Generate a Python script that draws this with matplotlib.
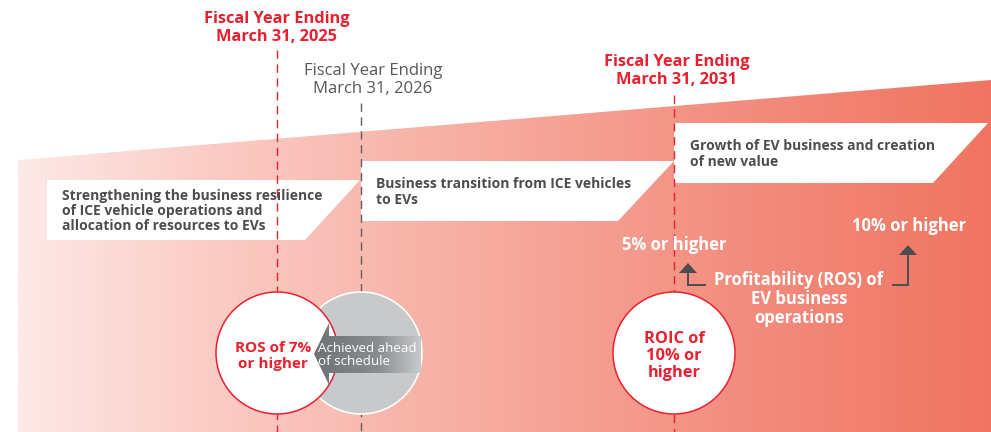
import numpy as np
import matplotlib.pyplot as plt
from matplotlib.patches import Polygon, Circle
from matplotlib.colors import LinearSegmentedColormap

# texts of the roadmap
milestones = ["Fiscal Year Ending\nMarch 31, 2025",
              "Fiscal Year Ending\nMarch 31, 2026",
              "Fiscal Year Ending\nMarch 31, 2031"]
phases = ["Strengthening the business resilience\nof ICE vehicle operations and\nallocation of resources to EVs",
          "Business transition from ICE vehicles\nto EVs",
          "Growth of EV business and creation\nof new value"]
targets = ["ROS of 7%\nor higher", "ROIC of\n10% or\nhigher"]
ev_ros = ["5% or higher", "10% or higher"]
ev_ros_label = "Profitability (ROS) of\nEV business\noperations"
ahead_label = "Achieved ahead\nof schedule"

RED = "#e8202f"
DARK = "#4d4d4f"
FONT = "Open Sans"

fig = plt.figure(figsize=(9.91, 4.32), dpi=100)
ax = fig.add_axes([0, 0, 1, 1])
ax.set_xlim(0, 991)
ax.set_ylim(432, 0)
ax.axis("off")

# gradient background wedge
grad = LinearSegmentedColormap.from_list(
    "bg", [(0, "#fde9e7"), (0.19, "#fbcdc6"), (0.5, "#f6a99c"),
           (0.78, "#f2897a"), (1, "#f07561")])
wedge = Polygon([(18, 160), (991, 80), (991, 432), (18, 432)],
                closed=True, facecolor="none", edgecolor="none")
ax.add_patch(wedge)
img = ax.imshow(np.linspace(0, 1, 512)[None, :], cmap=grad, aspect="auto",
                extent=[18, 991, 432, 80], zorder=1)
img.set_clip_path(wedge)

# white phase banners
banners = [
    [(47, 180), (360, 180), (305, 240), (47, 240)],
    [(361, 161), (674, 161), (618, 221), (361, 221)],
    [(674, 123), (988, 123), (933, 183), (674, 183)],
]
for pts in banners:
    ax.add_patch(Polygon(pts, closed=True, facecolor="white",
                         edgecolor="none", zorder=2))

text_pos = [(62, 211), (376, 192), (690, 154)]
for (x, y), t in zip(text_pos, phases):
    ax.text(x, y, t, ha="left", va="center", fontsize=10, color=DARK,
            fontweight="bold", family=FONT, linespacing=1.1, zorder=5)

# milestone dashed lines
ax.plot([277, 277], [50, 432], color=RED, lw=1, ls=(0, (6, 4)), zorder=3)
ax.plot([361, 361], [103, 432], color="#606062", lw=1, ls=(0, (6, 4)), zorder=3)
ax.plot([674, 674], [95, 432], color=RED, lw=1, ls=(0, (6, 4)), zorder=3)

ax.text(277, 28, milestones[0], ha="center", va="center", fontsize=11.8,
        color=RED, fontweight="bold", family=FONT, linespacing=1.1)
ax.text(373, 80, milestones[1], ha="center", va="center", fontsize=12,
        color="#58585a", family=FONT, linespacing=1.1)
ax.text(677, 71, milestones[2], ha="center", va="center", fontsize=11.8,
        color=RED, fontweight="bold", family=FONT, linespacing=1.1)

# gray circle (original plan position) with faded text
ax.add_patch(Circle((361, 353), 61, facecolor="#c7c9cb", edgecolor="white",
                    lw=1.2, zorder=4))
ax.text(361, 356, targets[0], ha="center", va="center", fontsize=11,
        color="#d6d7d8", fontweight="bold", family=FONT, linespacing=1.2,
        zorder=4)

# red circles
ax.add_patch(Circle((277, 353), 61, facecolor="white", edgecolor=RED,
                    lw=1.1, zorder=6))
ax.text(273, 356, targets[0], ha="center", va="center", fontsize=11,
        color=RED, fontweight="bold", family=FONT, linespacing=1.2, zorder=7)
ax.add_patch(Circle((674, 353), 61, facecolor="white", edgecolor=RED,
                    lw=1.1, zorder=6))
ax.text(674, 356, targets[1], ha="center", va="center", fontsize=11.8,
        color=RED, fontweight="bold", family=FONT, linespacing=1.05, zorder=7)

# "achieved ahead" arrow with fading body
arrow = Polygon([(314, 354), (329, 323), (329, 336), (421, 336), (421, 373),
                 (329, 373), (329, 385)], closed=True, facecolor="none",
                edgecolor="none")
ax.add_patch(arrow)
acmap = LinearSegmentedColormap.from_list(
    "ar", [(0, "#6f7275"), (0.6, "#8a8d90"), (1, "#c7c9cb")])
aimg = ax.imshow(np.linspace(0, 1, 256)[None, :], cmap=acmap, aspect="auto",
                 extent=[314, 421, 385, 323], zorder=8)
aimg.set_clip_path(arrow)
ax.text(318, 355, ahead_label, ha="left", va="center", fontsize=9.6,
        color="white", family=FONT, linespacing=1.05, zorder=9)

# EV business ROS targets
ax.text(674, 245, ev_ros[0], ha="center", va="center", fontsize=12,
        color="white", fontweight="bold", family=FONT, zorder=5)
ax.text(909, 226, ev_ros[1], ha="center", va="center", fontsize=12,
        color="white", fontweight="bold", family=FONT, zorder=5)
ax.text(799, 299, ev_ros_label, ha="center", va="center", fontsize=12,
        color="white", fontweight="bold", family=FONT, linespacing=1.05,
        zorder=5)

# L-shaped pointer arrows
ax.plot([705, 688, 688], [285, 285, 272], color=DARK, lw=1.4, zorder=5,
        solid_joinstyle="miter")
ax.add_patch(Polygon([(688, 263), (679, 273), (697, 273)], closed=True,
                     facecolor=DARK, edgecolor="none", zorder=5))
ax.plot([893, 908, 908], [285, 285, 254], color=DARK, lw=1.4, zorder=5,
        solid_joinstyle="miter")
ax.add_patch(Polygon([(908, 245), (899, 255), (917, 255)], closed=True,
                     facecolor=DARK, edgecolor="none", zorder=5))

fig.savefig("out.png", dpi=100)
